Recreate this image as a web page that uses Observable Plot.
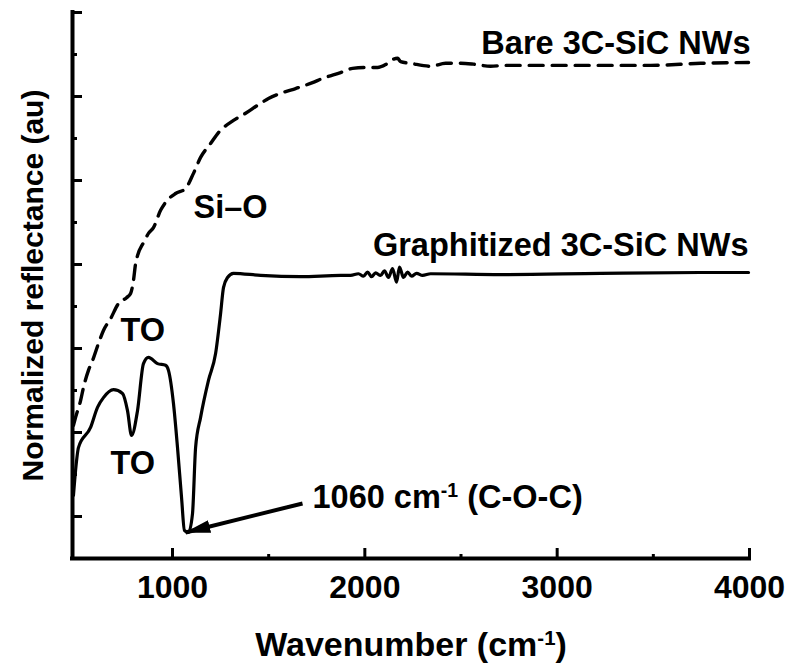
<!DOCTYPE html>
<html>
<head>
<meta charset="utf-8">
<script src="https://cdn.jsdelivr.net/npm/d3@7"></script>
<script src="https://cdn.jsdelivr.net/npm/@observablehq/plot@0.6"></script>
<style>
  html, body { margin: 0; padding: 0; background: #fff; }
</style>
</head>
<body>
<div id="chart"></div>
<script>
// Graphitized 3C-SiC NWs (solid line)
const graphWavenumber = [485, 496, 511, 574, 610, 641, 693, 740, 766, 787, 818, 849, 875, 922, 964, 979, 1005, 1026, 1047, 1062, 1083, 1104, 1120, 1146, 1187, 1224, 1250, 1265, 1286, 1317, 1458, 1666, 1874, 1926, 1967, 1993, 2014, 2035, 2056, 2082, 2102, 2123, 2144, 2165, 2180, 2201, 2222, 2243, 2269, 2300, 2342, 2706, 3226, 3746, 3995];
const graphReflectance = [0.05, 0.110, 0.164, 0.212, 0.260, 0.283, 0.302, 0.293, 0.252, 0.193, 0.252, 0.364, 0.379, 0.364, 0.360, 0.348, 0.269, 0.164, 0.045, -0.033, -0.038, 0.007, 0.164, 0.236, 0.324, 0.388, 0.483, 0.545, 0.569, 0.579, 0.574, 0.571, 0.574, 0.574, 0.578, 0.572, 0.582, 0.571, 0.580, 0.574, 0.585, 0.569, 0.590, 0.558, 0.594, 0.569, 0.582, 0.572, 0.579, 0.574, 0.578, 0.576, 0.579, 0.581, 0.581];

// Bare 3C-SiC NWs (dashed line)
const bareWavenumber = [485, 496, 522, 537, 563, 584, 615, 641, 678, 719, 761, 782, 797, 808, 818, 849, 875, 901, 938, 964, 1016, 1068, 1109, 1146, 1198, 1239, 1317, 1380, 1442, 1499, 1577, 1640, 1728, 1780, 1874, 1936, 2004, 2066, 2108, 2144, 2170, 2186, 2238, 2342, 2420, 2498, 2565, 2654, 2732, 2846, 3018, 3278, 3486, 3746, 3995];
const bareReflectance = [0.217, 0.236, 0.276, 0.307, 0.348, 0.371, 0.412, 0.443, 0.471, 0.507, 0.521, 0.531, 0.562, 0.602, 0.621, 0.652, 0.674, 0.688, 0.729, 0.748, 0.769, 0.781, 0.817, 0.855, 0.888, 0.914, 0.943, 0.960, 0.979, 0.995, 1.010, 1.019, 1.033, 1.043, 1.057, 1.067, 1.069, 1.069, 1.076, 1.088, 1.091, 1.083, 1.079, 1.072, 1.079, 1.079, 1.077, 1.072, 1.074, 1.074, 1.074, 1.074, 1.074, 1.079, 1.081];

// Axis ticks
const xMajorTicks = [1000, 2000, 3000, 4000];
const xMinorTicks = [1500, 2500, 3500];
const yMajorTicks = [0, 0.2, 0.4, 0.6, 0.8, 1.0, 1.2];
const yMinorTicks = [-0.1, 0.1, 0.3, 0.5, 0.7, 0.9, 1.1];

// Annotations (right-aligned series labels, left-aligned peak labels)
const seriesLabelText = ["Bare 3C-SiC NWs", "Graphitized 3C-SiC NWs"];
const seriesLabelX = [4005, 3995];
const seriesLabelY = [1.102, 0.621];
const peakLabelText = ["Si\u2013O", "TO", "TO", "1060 cm-1 (C-O-C)"];
const peakLabelX = [1109, 730, 678, 1728];
const peakLabelY = [0.710, 0.419, 0.102, 0.021];

// Arrow pointing to the 1060 cm-1 minimum
const arrowFrom = {x: 1676, y: 0.031};
const arrowTo = {x: 1068, y: -0.038};

const xLabel = "Wavenumber (cm-1)";
const yLabel = "Normalized reflectance (au)";

const graphData = graphWavenumber.map((w, i) => ({w, r: graphReflectance[i]}));
const bareData = bareWavenumber.map((w, i) => ({w, r: bareReflectance[i]}));
const seriesLabels = seriesLabelText.map((t, i) => ({t, x: seriesLabelX[i], y: seriesLabelY[i]}));
const peakLabels = peakLabelText.map((t, i) => ({t, x: peakLabelX[i], y: peakLabelY[i]}));

const FONT = "'Liberation Sans', Arial, sans-serif";

const triangleMarker = (color) => d3.create("svg:marker")
  .attr("viewBox", "0 -5 20 10")
  .attr("markerUnits", "userSpaceOnUse")
  .attr("markerWidth", 26)
  .attr("markerHeight", 13)
  .attr("refX", 19)
  .attr("refY", 0)
  .attr("orient", "auto")
  .call(m => m.append("path").attr("d", "M0,-5L20,0L0,5Z").attr("fill", color).attr("stroke", "none"))
  .node();

const textStyle = {fontSize: 32.5, fontWeight: "bold", fontFamily: FONT, fill: "#000", lineAnchor: "bottom"};

const plot = Plot.plot({
  width: 789,
  height: 664,
  marginLeft: 72,
  marginRight: 40,
  marginTop: 12,
  marginBottom: 106,
  style: {background: "#fff", fontFamily: FONT, color: "#000", overflow: "visible"},
  x: {domain: [480, 4000]},
  y: {domain: [-0.1, 1.2]},
  marks: [
    // inward tick marks
    Plot.axisY({ticks: yMajorTicks, tickSize: 10, dx: 10, fill: "none", stroke: "#000", strokeWidth: 3}),
    Plot.axisY({ticks: yMinorTicks, tickSize: 5, dx: 5, fill: "none", stroke: "#000", strokeWidth: 3}),
    Plot.axisX({ticks: xMajorTicks, tickSize: 10, dy: -10, fill: "none", stroke: "#000", strokeWidth: 3}),
    Plot.axisX({ticks: xMinorTicks, tickSize: 4, dy: -4, fill: "none", stroke: "#000", strokeWidth: 3}),
    // tick labels
    Plot.axisX({ticks: xMajorTicks, tickSize: 0, tickPadding: 17, tickFormat: d => String(d), label: null,
      fontSize: 32, fontWeight: "bold", fontFamily: FONT, fill: "#000"}),
    // axis lines
    Plot.ruleX([480], {stroke: "#000", strokeWidth: 4, strokeLinecap: "square"}),
    Plot.ruleY([-0.1], {stroke: "#000", strokeWidth: 4, strokeLinecap: "square"}),
    // data
    Plot.line(bareData, {x: "w", y: "r", stroke: "#000", strokeWidth: 3.4, strokeDasharray: "14,9", curve: "monotone-x"}),
    Plot.line(graphData, {x: "w", y: "r", stroke: "#000", strokeWidth: 3.2, curve: "monotone-x"}),
    // arrow
    Plot.link([arrowFrom], {x1: d => d.x, y1: d => d.y, x2: () => arrowTo.x, y2: () => arrowTo.y,
      stroke: "#000", strokeWidth: 4, markerEnd: triangleMarker}),
    // annotations
    Plot.text(seriesLabels, {x: "x", y: "y", text: "t", textAnchor: "end", ...textStyle}),
    Plot.text(peakLabels, {x: "x", y: "y", text: "t", textAnchor: "start", ...textStyle}),
    // axis titles
    Plot.text([xLabel], {frameAnchor: "bottom", dy: 97, lineAnchor: "bottom", textAnchor: "middle", text: d => d,
      fontSize: 34, fontWeight: "bold", fontFamily: FONT, fill: "#000"}),
    Plot.text([yLabel], {frameAnchor: "left", dx: -30, rotate: -90, lineAnchor: "bottom", textAnchor: "middle", text: d => d,
      fontSize: 30, fontWeight: "bold", fontFamily: FONT, fill: "#000"})
  ]
});

// superscript "-1" in "cm-1"
d3.select(plot).selectAll("text").each(function () {
  const t = this.textContent;
  const i = t.indexOf("cm-1");
  if (i < 0) return;
  const sel = d3.select(this);
  sel.text(null);
  sel.append("tspan").text(t.slice(0, i + 2));
  sel.append("tspan").attr("baseline-shift", "super").attr("font-size", "0.6em").text("-1");
  sel.append("tspan").text(t.slice(i + 4));
});

document.getElementById("chart").append(plot);
</script>
</body>
</html>
